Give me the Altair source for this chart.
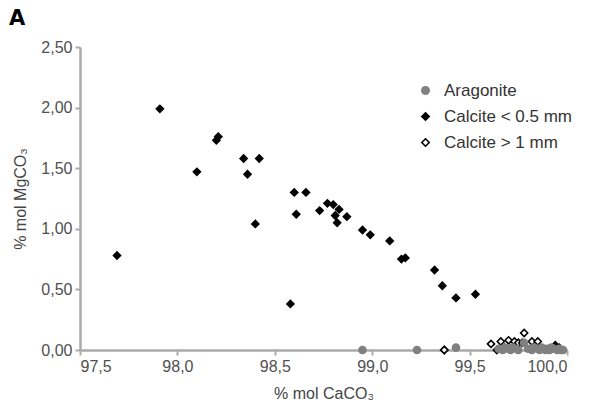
import altair as alt
import pandas as pd

# Aragonite
arag_x = [98.95, 99.23, 99.43, 99.65, 99.67, 99.68, 99.70, 99.71, 99.72, 99.74, 99.75, 99.78,
          99.80, 99.82, 99.83, 99.85, 99.86, 99.87, 99.88, 99.89, 99.90, 99.91, 99.92, 99.93,
          99.95, 99.96, 99.97, 99.98]
arag_y = [0.00, 0.00, 0.02, 0.01, 0.00, 0.02, 0.01, 0.00, 0.02, 0.01, 0.00, 0.06,
          0.01, 0.00, 0.02, 0.01, 0.00, 0.02, 0.01, 0.00, 0.01, 0.00, 0.02, 0.01,
          0.00, 0.01, 0.00, 0.00]

# Calcite < 0.5 mm
c05_x = [97.69, 97.91, 98.10, 98.20, 98.21, 98.34, 98.36, 98.40, 98.42, 98.58, 98.60, 98.61,
         98.66, 98.73, 98.77, 98.80, 98.81, 98.82, 98.83, 98.87, 98.95, 98.99, 99.09, 99.15,
         99.17, 99.32, 99.36, 99.43, 99.53, 99.37, 99.94, 99.96]
c05_y = [0.78, 1.99, 1.47, 1.73, 1.76, 1.58, 1.45, 1.04, 1.58, 0.38, 1.30, 1.12,
         1.30, 1.15, 1.21, 1.20, 1.11, 1.05, 1.16, 1.10, 0.99, 0.95, 0.90, 0.75,
         0.76, 0.66, 0.53, 0.43, 0.46, 0.00, 0.04, 0.02]

# Calcite > 1 mm
c1_x = [99.37, 99.61, 99.64, 99.66, 99.68, 99.70, 99.73, 99.75, 99.77, 99.78, 99.82, 99.85]
c1_y = [0.00, 0.05, 0.00, 0.07, 0.02, 0.08, 0.07, 0.06, 0.06, 0.14, 0.07, 0.07]

cats = ["Aragonite", "Calcite < 0.5 mm", "Calcite > 1 mm"]

rows = []
for x, y in zip(c05_x, c05_y):
    rows.append({"x": x, "y": y, "t": cats[1], "o": 0})
for x, y in zip(c1_x, c1_y):
    rows.append({"x": x, "y": y, "t": cats[2], "o": 1})
for x, y in zip(arag_x, arag_y):
    rows.append({"x": x, "y": y, "t": cats[0], "o": 2})
df = pd.DataFrame(rows)

axis_col = "#aaaaaa"
font = "Liberation Sans"

points = alt.Chart(df).mark_point(filled=False, opacity=1, strokeWidth=1.6, clip=False).encode(
    x=alt.X("x:Q", scale=alt.Scale(domain=[97.5, 100.0], nice=False, zero=False),
            axis=alt.Axis(values=[97.5, 98.0, 98.5, 99.0, 99.5, 100.0],
                          labelExpr="replace(format(datum.value, '.1f'), '.', ',')",
                          title="% mol CaCO₃", titlePadding=11)),
    y=alt.Y("y:Q", scale=alt.Scale(domain=[0, 2.5], nice=False),
            axis=alt.Axis(values=[0, 0.5, 1.0, 1.5, 2.0, 2.5],
                          labelExpr="replace(format(datum.value, '.2f'), '.', ',')",
                          title="% mol MgCO₃", titlePadding=12)),
    shape=alt.Shape("t:N", scale=alt.Scale(domain=cats, range=["circle", "diamond", "diamond"]),
                    title=None),
    fill=alt.Fill("t:N", scale=alt.Scale(domain=cats, range=["#808080", "#000000", "#ffffff"]),
                  title=None),
    stroke=alt.Stroke("t:N", scale=alt.Scale(domain=cats, range=["#808080", "#000000", "#000000"]),
                      title=None),
    order=alt.Order("o:Q"),
)

label = alt.Chart(pd.DataFrame({"t": ["A"]})).mark_text(
    fontSize=21, fontWeight="bold", font="DejaVu Sans", align="center", baseline="middle", clip=False
).encode(x=alt.value(-63), y=alt.value(-28), text="t:N")

chart = alt.layer(points, label).properties(
    width=487, height=303,
    autosize=alt.AutoSizeParams(type="none"),
    padding={"left": 72, "top": 39, "right": 19, "bottom": 52},
).configure_view(stroke=None).configure_axis(
    grid=False, domainColor=axis_col, domainWidth=2.5, tickColor=axis_col, tickWidth=2,
    tickSize=5, labelFont=font, labelFontSize=16, labelColor="#505050", labelPadding=3,
    titleFont=font, titleFontSize=16, titleColor="#444444", titleFontWeight="normal",
).configure_legend(
    orient="none", legendX=337, legendY=35, symbolStrokeWidth=1.6, symbolSize=55,
    labelFontSize=17, labelColor="#333333", labelFont=font, rowPadding=8, labelOffset=10,
).configure_point(size=50)

chart.save("out.html", embed_options={"renderer": "svg", "actions": False})
